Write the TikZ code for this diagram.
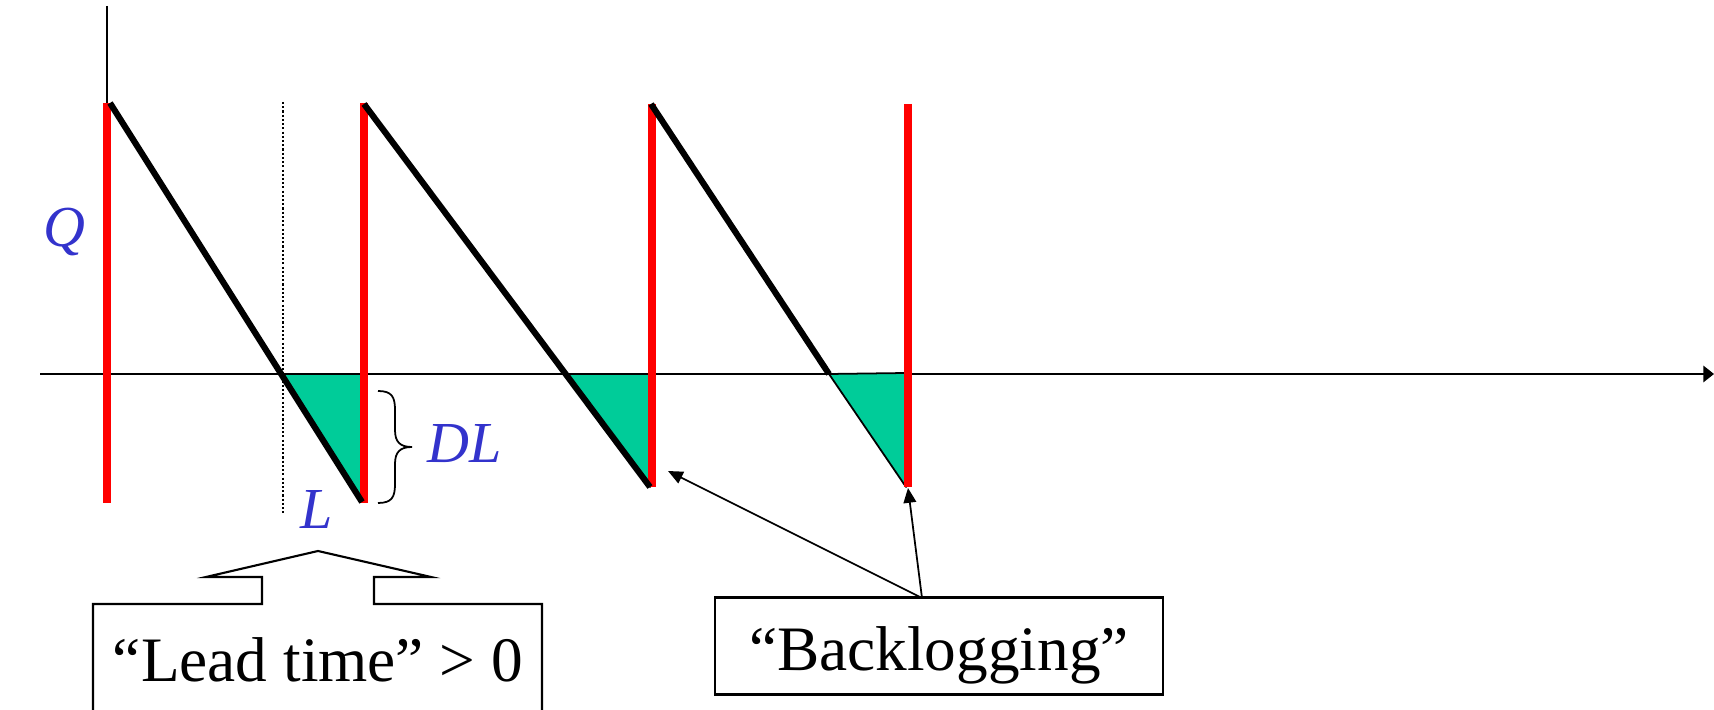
\documentclass[tikz,border=0pt]{standalone}
\usepackage{fontspec}
\setmainfont{Liberation Serif}
\usetikzlibrary{arrows.meta}
\definecolor{stockred}{RGB}{255,0,0}
\definecolor{backfill}{RGB}{0,204,153}
\definecolor{labelblue}{RGB}{51,51,204}

\begin{document}
\begin{tikzpicture}[x=0.01cm,y=-0.01cm,
  axisline/.style={line width=0.6pt},
  orderbar/.style={draw=stockred,line width=2.3pt},
  stockline/.style={line width=1.75pt},
  shortage/.style={fill=backfill,draw=black,line width=0.5pt,line join=round},
  symlabel/.style={text=labelblue,font=\fontsize{16.5}{19}\selectfont\itshape,inner sep=0pt},
  boxtext/.style={font=\fontsize{18}{21}\selectfont},
  pointer/.style={line width=0.5pt,-{Triangle[length=4.2pt,width=3.6pt]}},
]
\useasboundingbox (0,0) rectangle (1714,710);
\clip (0,0) rectangle (1714,710);

% axes
\coordinate (origin) at (107,374);
\coordinate (ytop) at (107,6);
\coordinate (ybot) at (107,503);
\coordinate (xleft) at (40,374);
\coordinate (xright) at (1714,374);
\draw[axisline] (ytop) -- (ybot);
\draw[axisline,-{Triangle[length=3pt,width=4.6pt]}] (xleft) -- (xright);

% lead-time marker
\coordinate (leadtop) at (283,102);
\coordinate (leadbot) at (283,515);
\draw[line width=0.45pt,dash pattern=on 0.6pt off 0.6pt] (leadtop) -- (leadbot);

% shortage triangles
\coordinate (c1) at (282,374);
\coordinate (e1) at (362,374);
\coordinate (b1) at (362,502);
\coordinate (c2) at (566,374);
\coordinate (e2) at (650,374);
\coordinate (b2) at (650,487);
\coordinate (c3) at (829,374);
\coordinate (e3) at (906,373);
\coordinate (b3) at (906,487);
\path[shortage] (c1) -- (e1) -- (b1) -- cycle;
\path[shortage] (c2) -- (e2) -- (b2) -- cycle;
\path[shortage] (c3) -- (e3) -- (b3) -- cycle;

% order arrivals
\coordinate (r1t) at (107,103); \coordinate (r1b) at (107,503);
\coordinate (r2t) at (364,103); \coordinate (r2b) at (364,503);
\coordinate (r3t) at (652,104); \coordinate (r3b) at (652,487);
\coordinate (r4t) at (908,104); \coordinate (r4b) at (908,487);
\draw[orderbar] (r1t) -- (r1b);
\draw[orderbar] (r2t) -- (r2b);
\draw[orderbar] (r3t) -- (r3b);
\draw[orderbar] (r4t) -- (r4b);

% inventory level
\coordinate (s1) at (110,103);
\coordinate (s2) at (364,104);
\coordinate (s3) at (651,104);
\draw[stockline] (s1) -- (b1);
\draw[stockline] (s2) -- (b2);
\draw[stockline] (s3) -- (c3);

% brace for the demand during lead time
\coordinate (brtop) at (378,391);
\coordinate (brtip) at (412,447);
\coordinate (brbot) at (378,503);
\draw[line width=0.5pt] (brtop) .. controls (392,391) and (395,397) .. (395,410)
  -- (395,430) .. controls (395,442) and (400,447) .. (brtip)
  .. controls (400,447) and (395,452) .. (395,464)
  -- (395,484) .. controls (395,497) and (392,503) .. (brbot);

% symbols
\node[symlabel] (q) at (64,232) {Q};
\node[symlabel] (dl) at (465,444) {DL};
\node[symlabel] (l) at (317,510) {L};

% callout for the lead time
\coordinate (k1) at (93,720);
\coordinate (k2) at (542,720);
\coordinate (apex) at (318,551);
\draw[line width=0.6pt,line join=miter] (k1) -- (93,604) -- (262,604) -- (262,577)
  -- (206,577) -- (apex) -- (431,577) -- (374,577) -- (374,604) -- (542,604) -- (k2);
\node[boxtext,anchor=base] (lead) at (318,682) {“Lead time” > 0};

% backlogging box and pointers
\node[draw,line width=0.6pt,boxtext,minimum width=4.48cm,minimum height=0.97cm,
  inner sep=0pt,text height=0.55cm,text depth=0.07cm] (back) at (939,646) {“Backlogging”};
\coordinate (p1) at (668,471);
\coordinate (p2) at (908,488);
\coordinate (bk) at (922,598);
\draw[pointer] (bk) -- (p1);
\draw[pointer] (bk) -- (p2);
\end{tikzpicture}
\end{document}
